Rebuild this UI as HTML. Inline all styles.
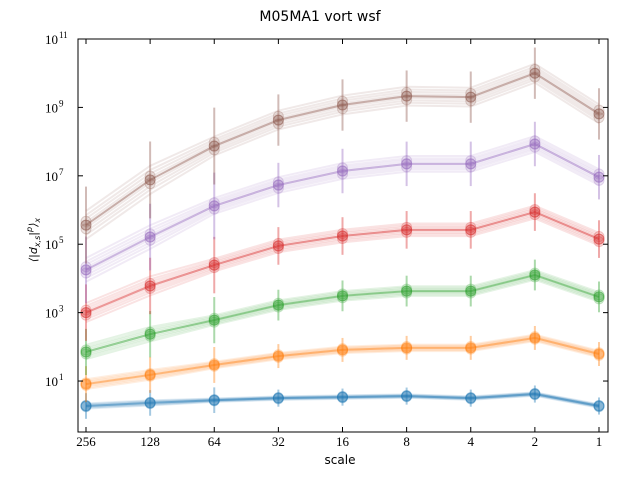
<!DOCTYPE html>
<html><head><meta charset="utf-8"><style>
body{margin:0;background:#fff;}
svg text{font-family:"DejaVu Sans","Liberation Sans",sans-serif;}
.tk{font-family:"Liberation Serif",serif;font-size:13px;}
</style></head><body>
<svg id="c" width="640" height="480" xmlns="http://www.w3.org/2000/svg">
<text x="320" y="21" text-anchor="middle" font-size="14">M05MA1 vort wsf</text>
<text x="340" y="464" text-anchor="middle" font-size="12">scale</text>
<text transform="translate(37,240) rotate(-90)" text-anchor="middle" font-size="11" font-family="Liberation Serif" font-style="italic">⟨|d<tspan font-size="8" dy="3">x,s</tspan><tspan dy="-3">|</tspan><tspan font-size="8" dy="-5">p</tspan><tspan dy="5">⟩</tspan><tspan font-size="8" dy="3">x</tspan></text>
<g id="plot"></g>
<g id="axes"></g>
</svg>
<script>
const categories=["256","128","64","32","16","8","4","2","1"];
const yTickExps=[1,3,5,7,9,11];
const seriesBlue=[0.27,0.36,0.44,0.50,0.53,0.56,0.50,0.62,0.27];
const seriesOrange=[0.91,1.18,1.47,1.73,1.91,1.97,1.97,2.26,1.79];
const seriesGreen=[1.85,2.37,2.78,3.22,3.49,3.63,3.63,4.10,3.46];
const seriesRed=[3.0,3.78,4.39,4.95,5.24,5.42,5.42,5.94,5.15];
const seriesPurple=[4.25,5.21,6.12,6.73,7.14,7.35,7.35,7.93,6.96];
const seriesBrown=[5.56,6.88,7.87,8.63,9.07,9.33,9.30,10.0,8.81];
const allSeries=[seriesBlue,seriesOrange,seriesGreen,seriesRed,seriesPurple,seriesBrown];
const colors=["#1f77b4","#ff7f0e","#2ca02c","#d62728","#9467bd","#8c564b"];
const names=["blue","orange","green","red","purple","brown"];
const L=78,R=608,T=39,B=432,ymin=-0.49,ymax=11;
const xs=i=>86+i*(599-86)/(categories.length-1);
const ys=v=>B-(v-ymin)/(ymax-ymin)*(B-T);
const NS="http://www.w3.org/2000/svg";
const plot=document.getElementById('plot'),axes=document.getElementById('axes');
function mk(t,a,p){const e=document.createElementNS(NS,t);for(const k in a)e.setAttribute(k,a[k]);p.appendChild(e);return e;}
const spread=[-1,-0.7,-0.45,-0.2,0,0.2,0.45,0.7,1];
allSeries.forEach((s,si)=>{
  const g=mk('g',{},plot);
  
  
  const w=0.05+si*0.045;
  spread.forEach((o,k)=>{
    const d=s.map((v,i)=>(i?'L':'M')+xs(i)+','+ys(v+o*w*(i<2?1.5:1))).join(' ');
    mk('path',{d:d,fill:'none',stroke:colors[si],'stroke-width':2,'stroke-opacity':0.13},g);
  });
  const ln=mk('path',{d:s.map((v,i)=>(i?'L':'M')+xs(i)+','+ys(v)).join(' '),fill:'none',stroke:colors[si],'stroke-width':2,'stroke-opacity':0.4},g);
  
  
  s.forEach((v,i)=>{
    const e=(0.25+si*0.1)*(i<3?1.5:1);
    mk('line',{x1:xs(i),x2:xs(i),y1:ys(v-e),y2:ys(v+e),stroke:colors[si],'stroke-width':2,'stroke-opacity':0.4},g);
    [-0.4,0,0.4].forEach(o=>{
      mk('circle',{cx:xs(i),cy:ys(v+o*w),r:5,fill:colors[si],'fill-opacity':0.15,stroke:colors[si],'stroke-opacity':0.25},g);
    });
    const c=mk('circle',{cx:xs(i),cy:ys(v),r:5,fill:colors[si],'fill-opacity':0.25,stroke:colors[si],'stroke-opacity':0.4},g);
    
    
  });
});
mk('rect',{x:L,y:T,width:R-L,height:B-T,fill:'none',stroke:'#000','stroke-width':1},axes);
categories.forEach((c,i)=>{
  mk('line',{x1:xs(i),x2:xs(i),y1:B,y2:B-5,stroke:'#000'},axes);
  mk('line',{x1:xs(i),x2:xs(i),y1:T,y2:T+5,stroke:'#000'},axes);
  const t=mk('text',{x:xs(i),y:B+14,'text-anchor':'middle',class:'tk'},axes);
  t.textContent=c;
  
  
});
yTickExps.forEach(e=>{
  const y=ys(e);
  mk('line',{x1:L,x2:L+5,y1:y,y2:y,stroke:'#000'},axes);
  mk('line',{x1:R,x2:R-5,y1:y,y2:y,stroke:'#000'},axes);
  const t=mk('text',{x:L-20,y:y+5,'text-anchor':'end',class:'tk'},axes);
  t.textContent='10';
  
  
  const sp=mk('text',{x:L-19,y:y-1,'text-anchor':'start',class:'tk'},axes);
  sp.setAttribute('style','font-size:9px');
  sp.textContent=String(e);
});
</script>
</body></html>
